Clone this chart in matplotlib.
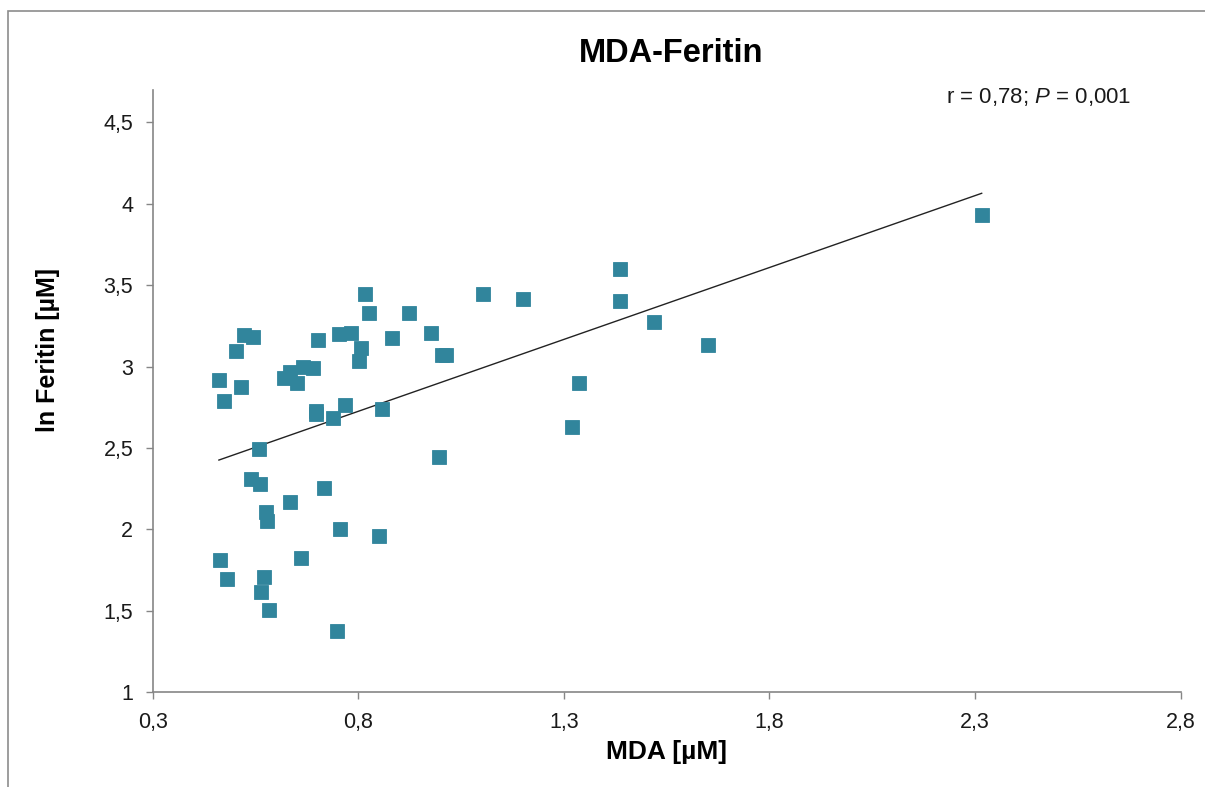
import matplotlib
matplotlib.use('Agg')
import matplotlib.pyplot as plt
from matplotlib.patches import Rectangle
import numpy as np

# ---- data ----
mda = [0.461, 0.474, 0.503, 0.523, 0.545, 0.515, 0.558, 0.538, 0.561, 0.576,
       0.577, 0.464, 0.481, 0.570, 0.563, 0.582, 0.635, 0.661, 0.619, 0.634,
       0.650, 0.665, 0.691, 0.703, 0.696, 0.697, 0.717, 0.738, 0.754, 0.768,
       0.782, 0.756, 0.748, 0.807, 0.802, 0.816, 0.827, 0.851, 0.858, 0.881,
       0.924, 0.977, 1.003, 1.014, 0.996, 1.104, 1.201, 1.320, 1.336, 1.436,
       1.436, 1.519, 1.650, 2.316]
ln_feritin = [2.918, 2.790, 3.096, 3.192, 3.180, 2.876, 2.495, 2.310, 2.277, 2.109,
              2.054, 1.811, 1.694, 1.708, 1.616, 1.505, 2.170, 1.823, 2.928, 2.969,
              2.901, 2.999, 2.989, 3.161, 2.727, 2.709, 2.254, 2.686, 3.198, 2.762,
              3.204, 2.001, 1.378, 3.116, 3.034, 3.444, 3.331, 1.962, 2.741, 3.174,
              3.327, 3.204, 3.073, 3.071, 2.442, 3.444, 3.417, 2.631, 2.899, 3.599,
              3.405, 3.272, 3.131, 3.929]
trend_slope = 0.883
trend_intercept = 2.019

x_ticks = [0.3, 0.8, 1.3, 1.8, 2.3, 2.8]
x_tick_labels = ['0,3', '0,8', '1,3', '1,8', '2,3', '2,8']
y_ticks = [1, 1.5, 2, 2.5, 3, 3.5, 4, 4.5]
y_tick_labels = ['1', '1,5', '2', '2,5', '3', '3,5', '4', '4,5']

title_text = 'MDA-Feritin'
x_label = 'MDA [µM]'
y_label = 'ln Feritin [µM]'
stat_text = 'r = 0,78; $\\mathit{P}$ = 0,001'

# ---- styling ----
plt.rcParams['font.family'] = ['Liberation Sans', 'DejaVu Sans']
plt.rcParams['mathtext.fontset'] = 'custom'
plt.rcParams['mathtext.rm'] = 'Liberation Sans'
plt.rcParams['mathtext.it'] = 'Liberation Sans:italic'

W, H = 1205, 787
fig = plt.figure(figsize=(W / 100, H / 100), dpi=100)
fig.patch.set_facecolor('white')

# figure border
fig.add_artist(Rectangle((8 / W, -0.02), 1.05, (H - 11) / H + 0.02,
                         transform=fig.transFigure, fill=False,
                         edgecolor='#8c8c8c', linewidth=1.2))

x0, x1 = 152.7, 1180.7
yb, yt = 692.3, 90.0
ax = fig.add_axes([x0 / W, (H - yb) / H, (x1 - x0) / W, (yb - yt) / H])
ax.set_xlim(0.3, 2.8)
ppu_y = (yb - 122.3) / 3.5
ax.set_ylim(1, 1 + (yb - yt) / ppu_y)

teal = '#31859C'
ax.plot(mda, ln_feritin, ls='none', marker='s', ms=10, mfc=teal, mec=teal,
        mew=0.6, zorder=3)

xs = np.array([min(mda), max(mda)])
ax.plot(xs, trend_intercept + trend_slope * xs, color='#222222', lw=1.0, zorder=2)

ax.set_xticks(x_ticks)
ax.set_xticklabels(x_tick_labels)
ax.set_yticks(y_ticks)
ax.set_yticklabels(y_tick_labels)
ax.tick_params(axis='both', direction='out', length=5, width=1, color='#868686',
               labelsize=15.5, labelcolor='#1a1a1a')
ax.tick_params(axis='x', pad=9)
ax.tick_params(axis='y', pad=9)

for s in ['top', 'right']:
    ax.spines[s].set_visible(False)
for s in ['left', 'bottom']:
    ax.spines[s].set_color('#868686')
    ax.spines[s].set_linewidth(1.2)

fig.text(671 / W, (H - 54) / H, title_text, ha='center', va='center',
         fontsize=23.5, fontweight='bold', color='black')
fig.text(666 / W, (H - 752) / H, x_label, ha='center', va='center',
         fontsize=19, fontweight='bold', color='black')
fig.text(48 / W, (H - 350) / H, y_label, ha='center', va='center',
         rotation=90, fontsize=18, fontweight='bold', color='black')
fig.text(946 / W, (H - 97) / H, stat_text, ha='left', va='center',
         fontsize=16, color='#1a1a1a')

fig.savefig('out.png', dpi=100, facecolor='white')
